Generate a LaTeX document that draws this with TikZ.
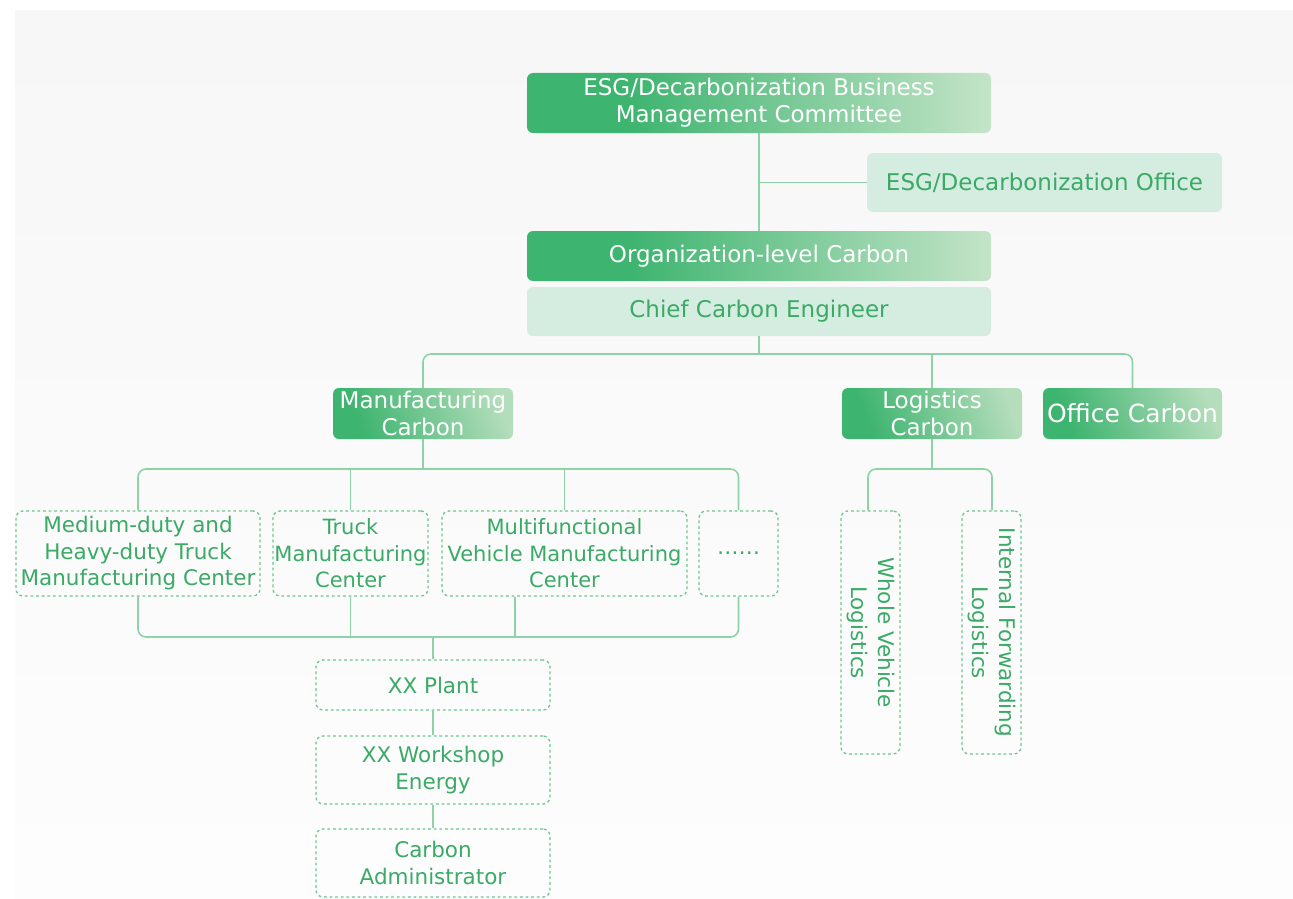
\documentclass[tikz,border=0pt]{standalone}
\usepackage{fontspec}
\setmainfont{DejaVu Sans}
\usepackage{graphicx}
\definecolor{gdark}{HTML}{3DB46F}
\definecolor{glight}{HTML}{C4E4C8}
\definecolor{glightb}{HTML}{B4DDBB}
\definecolor{gpale}{HTML}{D5EDE0}
\definecolor{gtext}{HTML}{3AAA66}
\definecolor{gline}{HTML}{8ED3A8}
\definecolor{gdash}{HTML}{6CC78F}
\definecolor{bgtop}{HTML}{F7F7F7}
\definecolor{bgbot}{HTML}{FDFDFD}
\pgfdeclarehorizontalshading{gshade}{100bp}{color(0bp)=(gdark); color(25bp)=(gdark); color(36bp)=(gdark); color(75bp)=(glight); color(100bp)=(glight)}
\pgfdeclarehorizontalshading{gshadeb}{100bp}{color(0bp)=(gdark); color(28bp)=(gdark); color(76bp)=(glightb); color(100bp)=(glightb)}
\tikzset{
  bigtext/.style={font=\fontsize{23}{27}\selectfont},
  smalltext/.style={font=\fontsize{21.5}{26.5}\selectfont},
  darkbox/.style={rectangle, rounded corners=6pt, shade, shading=gshade, draw=none, text=white, align=center, inner sep=0pt, bigtext},
  darkboxb/.style={rectangle, rounded corners=6pt, shade, shading=gshadeb, shading angle=20, draw=none, text=white, align=center, inner sep=0pt, bigtext},
  palebox/.style={rectangle, rounded corners=6pt, fill=gpale, text=gtext, align=center, inner sep=0pt, bigtext},
  dashbox/.style={rectangle, rounded corners=7pt, draw=gdash, line width=1.3pt, dash pattern=on 2.8pt off 2.8pt, text=gtext, align=center, inner sep=0pt, smalltext},
  conn/.style={draw=gline, line width=1.6pt, rounded corners=8pt},
}
\begin{document}
\begin{tikzpicture}[x=1pt,y=-1pt]
\useasboundingbox (0,0) rectangle (1293,899);
\shade[top color=bgtop, bottom color=bgbot] (15,11) rectangle (1293,899);

% top level
\node[darkbox, minimum width=464, minimum height=60] (top) at (759,103) {ESG/Decarbonization Business\\Management Committee};
\node[palebox, minimum width=355, minimum height=59] (office) at (1044.5,182.5) {ESG/Decarbonization Office};
\node[darkbox, minimum width=464, minimum height=50] (org) at (759,256) {Organization-level Carbon};
\node[palebox, minimum width=464, minimum height=49] (chief) at (759,311.5) {Chief Carbon Engineer};

% second level
\node[darkboxb, minimum width=180, minimum height=51] (manu) at (423,413.5) {Manufacturing\\Carbon};
\node[darkboxb, minimum width=180, minimum height=51] (logi) at (932,413.5) {Logistics\\Carbon};
\node[darkboxb, minimum width=179, minimum height=51, font=\fontsize{25}{30}\selectfont] (offc) at (1132.5,413.5) {Office Carbon};

% manufacturing centers
\node[dashbox, minimum width=244, minimum height=85] (med) at (138,553.5) {Medium-duty and\\Heavy-duty Truck\\Manufacturing Center};
\node[dashbox, minimum width=155, minimum height=85, font=\fontsize{21}{26.5}\selectfont] (truck) at (350.5,553.5) {Truck\\Manufacturing\\Center};
\node[dashbox, minimum width=245, minimum height=85, font=\fontsize{21}{26.5}\selectfont] (multi) at (564.5,553.5) {Multifunctional\\Vehicle Manufacturing\\Center};
\node[dashbox, minimum width=79, minimum height=85] (dots) at (738.5,553.5) {……};

% plant chain
\node[dashbox, minimum width=234, minimum height=50] (plant) at (433,685) {XX Plant};
\node[dashbox, minimum width=234, minimum height=68] (shop) at (433,770) {XX Workshop\\Energy};
\node[dashbox, minimum width=234, minimum height=68] (admin) at (433,863) {Carbon\\Administrator};

% logistics
\node[dashbox, minimum width=59, minimum height=243] (whole) at (870.5,632.5) {\rotatebox{-90}{\begin{tabular}{@{}c@{}}Whole Vehicle\\Logistics\end{tabular}}};
\node[dashbox, minimum width=59, minimum height=243] (intl) at (991.5,632.5) {\rotatebox{-90}{\begin{tabular}{@{}c@{}}Internal Forwarding\\Logistics\end{tabular}}};

% connectors
\coordinate (b1) at (759,354);
\coordinate (b2) at (423,469);
\coordinate (b3) at (433,637);
\coordinate (b4) at (932,469);

\draw[conn] (top.south) -- (org.north);
\draw[conn] (top.south |- office.west) -- (office.west);
\draw[conn] (chief.south) -- (b1);
\draw[conn] (manu.north) -- (manu.north |- b1) -- (offc.north |- b1) -- (offc.north);
\draw[conn] (logi.north) -- (logi.north |- b1);

\draw[conn] (manu.south) -- (b2);
\draw[conn] (med.north) -- (med.north |- b2) -- (dots.north |- b2) -- (dots.north);
\draw[conn] (truck.north) -- (truck.north |- b2);
\draw[conn] (multi.north) -- (multi.north |- b2);

\draw[conn] (med.south) -- (med.south |- b3) -- (dots.south |- b3) -- (dots.south);
\draw[conn] (truck.south) -- (truck.south |- b3);
\draw[conn] ([xshift=-49.5pt]multi.south) -- ([xshift=-49.5pt]multi.south |- b3);
\draw[conn] (b3) -- (plant.north);
\draw[conn] (plant.south) -- (shop.north);
\draw[conn] (shop.south) -- (admin.north);

\draw[conn] (logi.south) -- (b4);
\draw[conn] ([xshift=-2.5pt]whole.north) -- ([xshift=-2.5pt]whole.north |- b4) -- ([xshift=0.5pt]intl.north |- b4) -- ([xshift=0.5pt]intl.north);
\end{tikzpicture}
\end{document}
